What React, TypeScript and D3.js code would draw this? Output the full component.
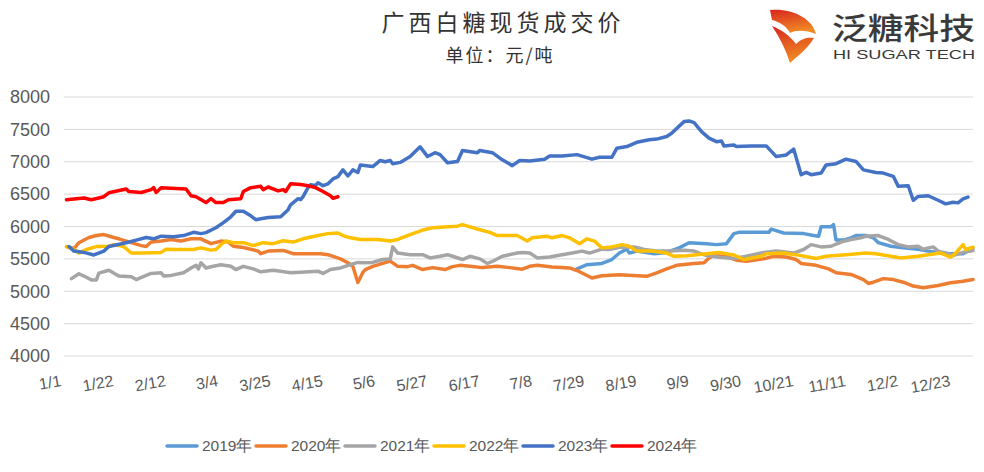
import * as d3 from "d3";

// [day of year, price]
const data2019: [number, number][] = [
  [206, 5345], [210, 5410], [216, 5430], [220, 5490], [223, 5590], [226, 5650], [227, 5590],
  [230, 5620], [237, 5580], [242, 5600], [247, 5670], [251, 5750], [258, 5735], [262, 5720],
  [266, 5735], [269, 5890], [271, 5910], [283, 5910], [284, 5960], [289, 5900], [297, 5890],
  [301, 5860], [303, 5850], [304, 5995], [308, 5995], [309, 6030], [310, 5790], [313, 5790],
  [316, 5825], [318, 5860], [322, 5860], [325, 5825], [327, 5750], [332, 5695], [337, 5670],
  [343, 5650], [347, 5620], [352, 5590], [356, 5580], [361, 5580], [365, 5670],
];
const data2020: [number, number][] = [
  [1, 5690], [4, 5660], [6, 5750], [10, 5830], [13, 5860], [16, 5875], [20, 5830], [22, 5810],
  [27, 5750], [31, 5705], [33, 5690], [35, 5760], [39, 5775], [43, 5800], [47, 5775], [51, 5810],
  [55, 5810], [59, 5735], [63, 5775], [66, 5760], [68, 5695], [72, 5675], [78, 5620], [79, 5580],
  [82, 5620], [88, 5630], [92, 5580], [103, 5580], [106, 5565], [111, 5500], [114, 5440],
  [116, 5385], [117, 5260], [118, 5135], [120, 5290], [121, 5335], [124, 5385], [128, 5430],
  [131, 5465], [134, 5385], [138, 5380], [140, 5400], [144, 5335], [148, 5365], [153, 5335],
  [156, 5380], [159, 5400], [163, 5385], [168, 5365], [174, 5385], [179, 5365], [184, 5340],
  [187, 5385], [190, 5400], [196, 5375], [203, 5360], [206, 5320], [212, 5205], [216, 5240],
  [223, 5255], [234, 5230], [238, 5285], [242, 5345], [246, 5400], [253, 5430], [257, 5440],
  [259, 5515], [261, 5550], [266, 5540], [270, 5480], [274, 5465], [281, 5500], [285, 5540],
  [290, 5530], [294, 5490], [296, 5430], [302, 5400], [307, 5345], [310, 5285], [316, 5260],
  [321, 5180], [323, 5120], [325, 5140], [329, 5195], [333, 5180], [337, 5140], [341, 5080],
  [345, 5055], [351, 5090], [356, 5130], [361, 5155], [365, 5180],
];
const data2021: [number, number][] = [
  [3, 5195], [6, 5270], [8, 5235], [11, 5175], [13, 5175], [14, 5280], [18, 5325], [22, 5235],
  [27, 5225], [29, 5180], [33, 5245], [35, 5275], [39, 5285], [40, 5235], [43, 5245], [48, 5285],
  [51, 5360], [53, 5400], [54, 5345], [55, 5440], [57, 5360], [60, 5385], [63, 5410], [67, 5385],
  [69, 5335], [72, 5385], [76, 5345], [79, 5300], [84, 5325], [87, 5310], [91, 5285], [95, 5295],
  [102, 5310], [104, 5275], [107, 5335], [111, 5360], [115, 5410], [118, 5445], [120, 5440],
  [124, 5445], [128, 5490], [131, 5500], [132, 5685], [134, 5590], [139, 5565], [144, 5565],
  [147, 5515], [151, 5540], [154, 5565], [156, 5540], [160, 5490], [163, 5540], [167, 5500],
  [170, 5430], [172, 5460], [176, 5540], [182, 5590], [184, 5600], [187, 5590], [190, 5515],
  [195, 5530], [200, 5565], [204, 5590], [208, 5620], [211, 5590], [216, 5650], [219, 5645],
  [223, 5680], [229, 5685], [233, 5645], [238, 5620], [243, 5620], [249, 5635], [253, 5620],
  [258, 5550], [263, 5525], [269, 5505], [274, 5540], [281, 5600], [286, 5620], [293, 5590],
  [297, 5645], [300, 5720], [304, 5685], [308, 5695], [312, 5760], [316, 5800], [320, 5825],
  [322, 5850], [327, 5860], [331, 5800], [335, 5720], [339, 5685], [343, 5695], [345, 5650],
  [349, 5685], [351, 5620], [355, 5580], [357, 5550], [361, 5600], [365, 5630],
];
const data2022: [number, number][] = [
  [1, 5690], [4, 5645], [6, 5590], [9, 5645], [13, 5690], [18, 5695], [20, 5720], [24, 5690],
  [27, 5590], [32, 5590], [39, 5600], [41, 5650], [45, 5645], [52, 5645], [55, 5670], [59, 5635],
  [61, 5645], [63, 5720], [65, 5775], [68, 5750], [72, 5750], [76, 5705], [80, 5750], [84, 5735],
  [88, 5780], [92, 5760], [96, 5810], [102, 5860], [106, 5890], [110, 5900], [112, 5860],
  [115, 5825], [119, 5800], [126, 5800], [131, 5775], [134, 5800], [139, 5875], [144, 5945],
  [148, 5980], [154, 5995], [158, 6005], [160, 6030], [163, 5995], [167, 5950], [171, 5910],
  [174, 5860], [182, 5860], [186, 5775], [188, 5825], [194, 5850], [196, 5825], [200, 5860],
  [203, 5825], [207, 5735], [210, 5810], [213, 5775], [216, 5670], [220, 5685], [224, 5720],
  [227, 5695], [230, 5620], [236, 5620], [242, 5590], [245, 5540], [250, 5550], [258, 5580],
  [263, 5600], [269, 5560], [273, 5490], [280, 5540], [282, 5580], [289, 5590], [296, 5550],
  [302, 5505], [306, 5540], [314, 5565], [322, 5590], [326, 5580], [332, 5540], [336, 5515],
  [343, 5540], [347, 5565], [352, 5590], [356, 5525], [358, 5590], [361, 5720], [362, 5645],
  [365, 5680],
];
const data2023: [number, number][] = [
  [2, 5690], [4, 5620], [8, 5600], [12, 5560], [16, 5620], [18, 5690], [25, 5750], [29, 5790],
  [33, 5830], [36, 5810], [39, 5850], [44, 5840], [48, 5860], [52, 5910], [55, 5890], [57, 5905],
  [61, 5980], [64, 6060], [67, 6150], [69, 6235], [72, 6235], [75, 6165], [77, 6105], [79, 6120],
  [82, 6140], [87, 6150], [90, 6260], [91, 6335], [94, 6430], [95, 6414], [96, 6460], [98, 6600],
  [99, 6645], [101, 6635], [102, 6675], [104, 6630], [106, 6660], [108, 6735], [110, 6770],
  [112, 6875], [114, 6780], [116, 6875], [118, 6835], [119, 6950], [124, 6925], [127, 7020],
  [129, 7000], [131, 7020], [132, 6970], [135, 6990], [139, 7080], [143, 7230], [146, 7080],
  [149, 7140], [151, 7110], [154, 6985], [158, 7005], [160, 7175], [166, 7140], [167, 7175],
  [172, 7140], [176, 7030], [180, 6940], [183, 7020], [187, 7010], [193, 7040], [195, 7090],
  [200, 7090], [206, 7110], [212, 7040], [215, 7070], [220, 7070], [222, 7210], [226, 7235],
  [230, 7300], [235, 7340], [238, 7350], [242, 7390], [244, 7440], [247, 7550], [249, 7620],
  [251, 7630], [253, 7605], [256, 7465], [259, 7365], [262, 7310], [264, 7320], [265, 7245],
  [269, 7260], [270, 7235], [276, 7245], [282, 7245], [286, 7080], [290, 7105], [293, 7195],
  [296, 6800], [298, 6835], [300, 6800], [304, 6825], [306, 6950], [310, 6970], [314, 7040],
  [318, 7005], [321, 6875], [326, 6835], [329, 6825], [333, 6775], [335, 6620], [339, 6630],
  [341, 6405], [343, 6465], [347, 6475], [351, 6405], [354, 6350], [357, 6375], [359, 6365],
  [361, 6425], [363, 6455],
];
const data2024: [number, number][] = [
  [1, 6414], [8, 6440], [11, 6414], [16, 6460], [18, 6520], [25, 6580], [26, 6540], [31, 6525],
  [35, 6570], [36, 6600], [37, 6525], [39, 6600], [49, 6580], [51, 6475], [53, 6460], [57, 6370],
  [59, 6430], [61, 6370], [64, 6370], [66, 6414], [71, 6430], [72, 6540], [75, 6600], [79, 6620],
  [80, 6570], [82, 6610], [86, 6550], [88, 6570], [89, 6540], [91, 6660], [95, 6650], [98, 6630],
  [101, 6600], [104, 6540], [107, 6475], [108, 6435], [110, 6460],
];

const years = ["2019年", "2020年", "2021年", "2022年", "2023年", "2024年"];
const colors = ["#5B9BD5", "#ED7D31", "#A5A5A5", "#FFC000", "#4472C4", "#FF0000"];
const series = [data2019, data2020, data2021, data2022, data2023, data2024];

const yTicks = [4000, 4500, 5000, 5500, 6000, 6500, 7000, 7500, 8000];
const xTickDays = [0, 21, 42, 63, 84, 105, 126, 147, 168, 189, 210, 231, 252, 273, 294, 315, 336, 357];
const xTickLabels = [
  "1/1", "1/22", "2/12", "3/4", "3/25", "4/15", "5/6", "5/27", "6/17",
  "7/8", "7/29", "8/19", "9/9", "9/30", "10/21", "11/11", "12/2", "12/23",
];

const W = 984;
const H = 472;

export default function App() {
  const x = d3.scaleLinear().domain([0, 365]).range([64, 973]);
  const y = d3.scaleLinear().domain([4000, 8000]).range([356, 97]);
  const line = d3
    .line<[number, number]>()
    .x((d) => x(d[0]))
    .y((d) => y(d[1]));

  const font = "'Liberation Sans', Arial, sans-serif";
  const cjk = "'Noto Sans CJK SC', sans-serif";

  return (
    <svg
      width={W}
      height={H}
      viewBox={`0 0 ${W} ${H}`}
      style={{ position: "absolute", left: 0, top: 0, background: "#fff" }}
    >
      <defs>
        <linearGradient id="logoGrad" x1="0" y1="0" x2="0.3" y2="1">
          <stop offset="0" stopColor="#D7261E" />
          <stop offset="1" stopColor="#F08A24" />
        </linearGradient>
      </defs>

      {/* title */}
      <text x={503} y={31} textAnchor="middle" fontSize={23} letterSpacing={4} fill="#333" fontFamily={cjk}>
        广西白糖现货成交价
      </text>
      <text x={500} y={62} textAnchor="middle" fontSize={18} letterSpacing={2} fill="#333" fontFamily={cjk}>
        单位：元/吨
      </text>

      {/* logo */}
      <g>
        <path
          d="M770,10 C792,8 812,18 816,34 C806,30 796,30 790,33 C786,26 780,22 772,20 Z"
          fill="url(#logoGrad)"
        />
        <path
          d="M772,26 C782,30 790,36 796,44 C802,38 808,37 814,38 C808,48 798,56 790,63 C786,50 780,38 772,26 Z"
          fill="url(#logoGrad)"
        />
        <text x={832} y={39} fontSize={30} fill="#3A3A3A" fontFamily={cjk} fontWeight={500} textLength={143} lengthAdjust="spacingAndGlyphs">
          泛糖科技
        </text>
        <text x={833} y={59} fontSize={13} fill="#3A3A3A" fontFamily={font} textLength={142} lengthAdjust="spacingAndGlyphs">
          HI SUGAR TECH
        </text>
      </g>

      {/* grid + y axis */}
      {yTicks.map((t) => (
        <g key={t}>
          <line x1={64} x2={973} y1={y(t)} y2={y(t)} stroke="#D9D9D9" strokeWidth={1} />
          <text x={50} y={y(t)} dy="0.35em" textAnchor="end" fontSize={18} fill="#595959" fontFamily={font}>
            {t}
          </text>
        </g>
      ))}

      {/* x labels */}
      {xTickDays.map((d, i) => (
        <text
          key={d}
          transform={`translate(${x(d) - 2},386) rotate(-10)`}
          textAnchor="end"
          fontSize={16}
          fill="#595959"
          fontFamily={font}
        >
          {xTickLabels[i]}
        </text>
      ))}

      {/* series */}
      {series.map((s, i) => (
        <path
          key={years[i]}
          d={line(s) || ""}
          fill="none"
          stroke={colors[i]}
          strokeWidth={3.5}
          strokeLinejoin="round"
          strokeLinecap="round"
        />
      ))}

      {/* legend */}
      {years.map((label, i) => (
        <g key={label} transform={`translate(${167 + i * 89},446)`}>
          <line x1={0} x2={30} y1={0} y2={0} stroke={colors[i]} strokeWidth={3.5} strokeLinecap="round" />
          <text x={35} y={0} dy="0.35em" fontSize={15.5} fill="#595959" fontFamily={font}>
            {label}
          </text>
        </g>
      ))}
    </svg>
  );
}
